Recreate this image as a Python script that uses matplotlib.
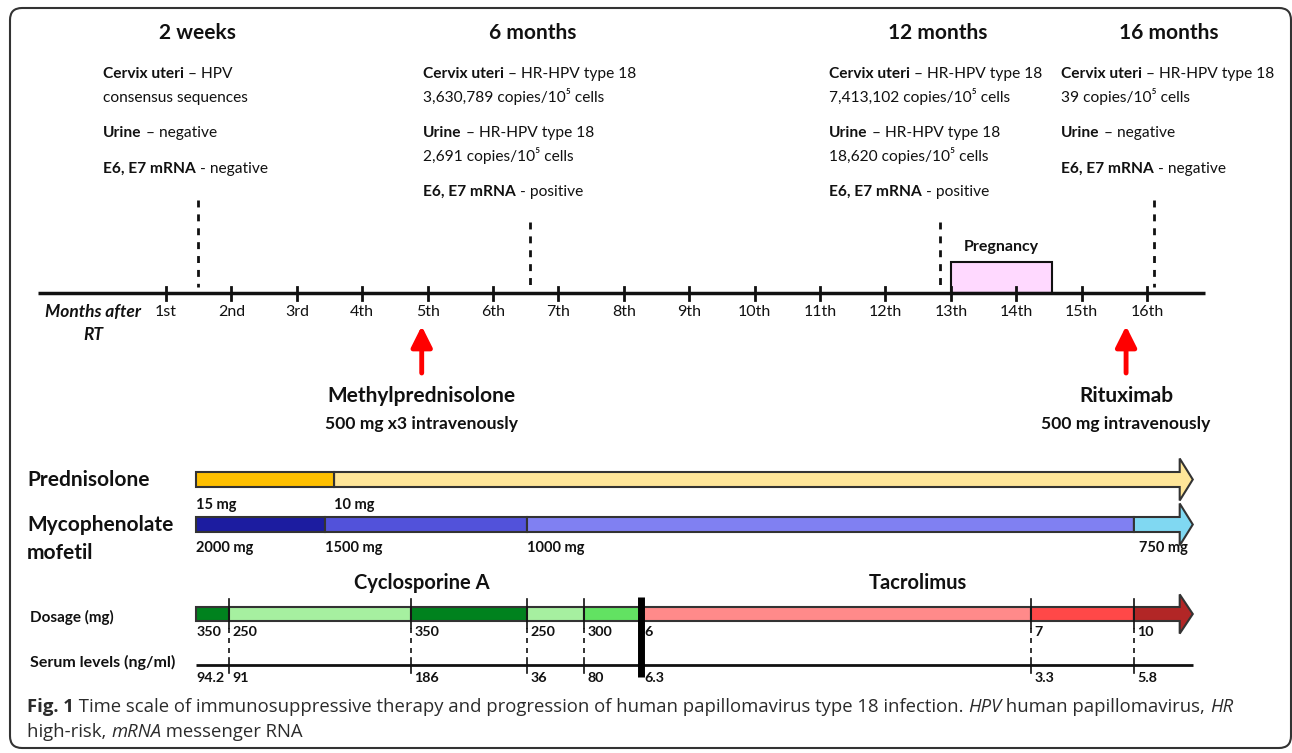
import matplotlib
matplotlib.use("Agg")
import matplotlib.pyplot as plt
from matplotlib.patches import Rectangle, Polygon, FancyBboxPatch
from matplotlib.transforms import IdentityTransform

plt.rcParams['font.family'] = ['Lato', 'DejaVu Sans']

# ---- data -------------------------------------------------------------
month_ticks = list(range(1, 17))
month_labels = ['1st', '2nd', '3rd', '4th', '5th', '6th', '7th', '8th', '9th',
                '10th', '11th', '12th', '13th', '14th', '15th', '16th']

visits = ['2 weeks', '6 months', '12 months', '16 months']
visit_month = [1.49, 6.57, 12.83, 16.11]
visit_line_top = [200, 222, 222, 200]

# text under each visit header: paragraphs of lines, each line = (bold part, normal part)
visit_notes = [
    [[('Cervix uteri', ' \u2013 HPV'), ('', 'consensus sequences')],
     [('Urine', ' \u2013 negative')],
     [('E6, E7 mRNA', ' - negative')]],
    [[('Cervix uteri', ' \u2013 HR-HPV type 18'), ('', '3,630,789 copies/10\u2075 cells')],
     [('Urine', ' \u2013 HR-HPV type 18'), ('', '2,691 copies/10\u2075 cells')],
     [('E6, E7 mRNA', ' - positive')]],
    [[('Cervix uteri', ' \u2013 HR-HPV type 18'), ('', '7,413,102 copies/10\u2075 cells')],
     [('Urine', ' \u2013 HR-HPV type 18'), ('', '18,620 copies/10\u2075 cells')],
     [('E6, E7 mRNA', ' - positive')]],
    [[('Cervix uteri', ' \u2013 HR-HPV type 18'), ('', '39 copies/10\u2075 cells')],
     [('Urine', ' \u2013 negative')],
     [('E6, E7 mRNA', ' - negative')]],
]

pregnancy = (13.0, 14.55)

events = ['Methylprednisolone', 'Rituximab']
event_month = [4.91, 15.68]
event_dose = ['500 mg x3 intravenously', '500 mg intravenously']

bar_start = 1.46
bar_end = 16.5      # where arrow heads start
arrow_tip = 16.7

pred_change = [bar_start, 3.57]
pred_dose = ['15 mg', '10 mg']
pred_colors = ['#FFC000', '#FFE699']

mmf_change = [bar_start, 3.43, 6.52, 15.80]
mmf_dose = ['2000 mg', '1500 mg', '1000 mg', '750 mg']
mmf_colors = ['#1C1CA0', '#5252DA', '#8080F2', '#80D8F2']

imm_change = [bar_start, 1.96, 4.75, 6.52, 7.39, 8.26, 14.23, 15.80]
imm_dose = ['350', '250', '350', '250', '300', '6', '7', '10']
imm_serum = ['94.2', '91', '186', '36', '80', '6.3', '3.3', '5.8']
imm_colors = ['#00821E', '#A6F0A0', '#00821E', '#A6F0A0', '#62E262',
              '#FF8A8A', '#FF4848', '#B22626']
switch_month = 8.26  # cyclosporine A -> tacrolimus

caption_runs = [('Fig. 1', 'bold', 'normal'),
                (' Time scale of immunosuppressive therapy and progression of human '
                 'papillomavirus type 18 infection. ', 'normal', 'normal'),
                ('HPV', 'normal', 'italic'), (' human papillomavirus, ', 'normal', 'normal'),
                ('HR', 'normal', 'italic')]
caption_runs2 = [('high-risk, ', 'normal', 'normal'), ('mRNA', 'normal', 'italic'),
                 (' messenger RNA', 'normal', 'normal')]

# ---- figure -----------------------------------------------------------
W, H = 1292, 753
fig = plt.figure(figsize=(W / 100, H / 100), dpi=100)
ax = fig.add_axes([0, 0, 1, 1])


def px2m(p):
    # pixel column -> month on the time scale
    return (p - 166) / 65.4 + 1


ax.set_xlim(px2m(0), px2m(W))
ax.set_ylim(H, 0)
ax.axis('off')
renderer = fig.canvas.get_renderer()
inv = ax.transData.inverted()
INK = '#111111'


def runs(x, y, parts, size, family=None, color=INK):
    """draw text pieces one after another on a baseline"""
    for txt, weight, style in parts:
        if not txt:
            continue
        kw = dict(fontsize=size, fontweight=weight, fontstyle=style, color=color,
                  va='baseline', ha='left')
        if family:
            kw['family'] = family
        t = ax.text(x, y, txt, **kw)
        bb = t.get_window_extent(renderer)
        x = inv.transform((bb.x1, bb.y0))[0]


# outer frame
fig.patches.append(FancyBboxPatch((10, 5), 1281, 740, boxstyle='round,pad=0,rounding_size=12',
                                  transform=IdentityTransform(), fill=False,
                                  ec='#333333', lw=1.5, figure=fig))

# time axis
ax.plot([px2m(38), px2m(1205)], [293, 293], color=INK, lw=2.5, solid_capstyle='butt')
for m, lab in zip(month_ticks, month_labels):
    ax.plot([m, m], [287, 300], color=INK, lw=2)
    ax.text(m, 312, lab, ha='center', va='center', fontsize=11.5, color=INK)
ax.text(px2m(93), 312, 'Months after', ha='center', va='center', fontsize=12.5,
        fontweight='bold', fontstyle='italic', color=INK)
ax.text(px2m(93), 335, 'RT', ha='center', va='center', fontsize=12.5,
        fontweight='bold', fontstyle='italic', color=INK)

# visits
note_x = [103, 423, 829, 1061]
head_x = [197, 533, 938, 1169]
for i, name in enumerate(visits):
    ax.text(px2m(head_x[i]), 33, name, ha='center', va='center', fontsize=15,
            fontweight='bold', color=INK)
    ax.plot([visit_month[i]] * 2, [visit_line_top[i], 287], color=INK, lw=2,
            ls=(0, (2.5, 2.5)))
    y = 78
    for para in visit_notes[i]:
        for b, n in para:
            runs(px2m(note_x[i]), y, [(b, 'bold', 'normal'), (n, 'normal', 'normal')], 11.2)
            y += 23.5
        y += 12

# pregnancy
ax.add_patch(Rectangle((pregnancy[0], 262), pregnancy[1] - pregnancy[0], 31,
                       fc='#FFD9FF', ec=INK, lw=1.5, zorder=1))
ax.text(sum(pregnancy) / 2, 247, 'Pregnancy', ha='center', va='center', fontsize=11.5,
        fontweight='bold', color=INK)

# treatment events
for m, name, dose in zip(event_month, events, event_dose):
    ax.annotate('', xy=(m, 326), xytext=(m, 373),
                arrowprops=dict(arrowstyle='-|>,head_length=0.7,head_width=0.35',
                                color='#FF0000', lw=3.5, mutation_scale=18, shrinkA=0, shrinkB=0))
    ax.text(m, 396, name, ha='center', va='center', fontsize=15, fontweight='bold', color=INK)
    ax.text(m, 424, dose, ha='center', va='center', fontsize=12.6, fontweight='bold', color=INK)


def drug_bar(changes, colors, y0, h, edge='#333333'):
    ends = changes[1:] + [bar_end]
    for k, (a, b, c) in enumerate(zip(changes, ends, colors)):
        if k == len(changes) - 1:
            hw = h * 0.9
            pts = [(a, y0), (b, y0), (b, y0 - hw), (arrow_tip, y0 + h / 2),
                   (b, y0 + h + hw), (b, y0 + h), (a, y0 + h)]
            ax.add_patch(Polygon(pts, closed=True, fc=c, ec=edge, lw=1.5, zorder=3))
        else:
            ax.add_patch(Rectangle((a, y0), b - a, h, fc=c, ec=edge, lw=1.5, zorder=3))


# prednisolone
ax.text(px2m(27), 480, 'Prednisolone', ha='left', va='center', fontsize=15,
        fontweight='bold', color=INK)
drug_bar(pred_change, pred_colors, 472, 15)
for m, d in zip(pred_change, pred_dose):
    ax.text(m, 505, d, ha='left', va='center', fontsize=10.5, fontweight='bold', color=INK)

# mycophenolate mofetil
ax.text(px2m(27), 525, 'Mycophenolate', ha='left', va='center', fontsize=15,
        fontweight='bold', color=INK)
ax.text(px2m(27), 553, 'mofetil', ha='left', va='center', fontsize=15,
        fontweight='bold', color=INK)
drug_bar(mmf_change, mmf_colors, 517, 15)
for k, (m, d) in enumerate(zip(mmf_change, mmf_dose)):
    xx = m + (0.08 if k == len(mmf_change) - 1 else 0)
    ax.text(xx, 548, d, ha='left', va='center', fontsize=10.5, fontweight='bold', color=INK)

# cyclosporine A / tacrolimus
ax.text(px2m(422), 583, 'Cyclosporine A', ha='center', va='center',
        fontsize=14.5, fontweight='bold', color=INK)
ax.text(px2m(918), 583, 'Tacrolimus', ha='center', va='center',
        fontsize=14.5, fontweight='bold', color=INK)
ax.text(px2m(30), 617, 'Dosage (mg)', ha='left', va='center', fontsize=11,
        fontweight='bold', color=INK)
ax.text(px2m(30), 662, 'Serum levels (ng/ml)', ha='left', va='center', fontsize=11.5,
        fontweight='bold', color=INK)
drug_bar(imm_change, imm_colors, 607, 14)
ax.plot([bar_start, arrow_tip], [665, 665], color=INK, lw=2, solid_capstyle='butt', zorder=2)
for k, m in enumerate(imm_change):
    if k > 0 and m != switch_month:
        ax.plot([m, m], [599, 628], color=INK, lw=1.2, zorder=4)
        ax.plot([m, m], [628, 658], color=INK, lw=1.2, ls=(0, (3, 3)), zorder=4)
        ax.plot([m, m], [658, 673], color=INK, lw=1.2, zorder=4)
    xx = m + (0.05 if k > 0 else 0)
    ax.text(xx, 632, imm_dose[k], ha='left', va='center', fontsize=10.3, fontweight='bold',
            color=INK)
    ax.text(xx, 678, imm_serum[k], ha='left', va='center', fontsize=10.3, fontweight='bold',
            color=INK)
ax.plot([switch_month, switch_month], [597, 677], color='black', lw=5, zorder=5,
        solid_capstyle='butt')

# caption
runs(px2m(27), 712, caption_runs, 13.3, family=['Open Sans', 'DejaVu Sans'], color='#2b2b2b')
runs(px2m(27), 737, caption_runs2, 13.3, family=['Open Sans', 'DejaVu Sans'], color='#2b2b2b')

fig.savefig('out.png', dpi=100)
